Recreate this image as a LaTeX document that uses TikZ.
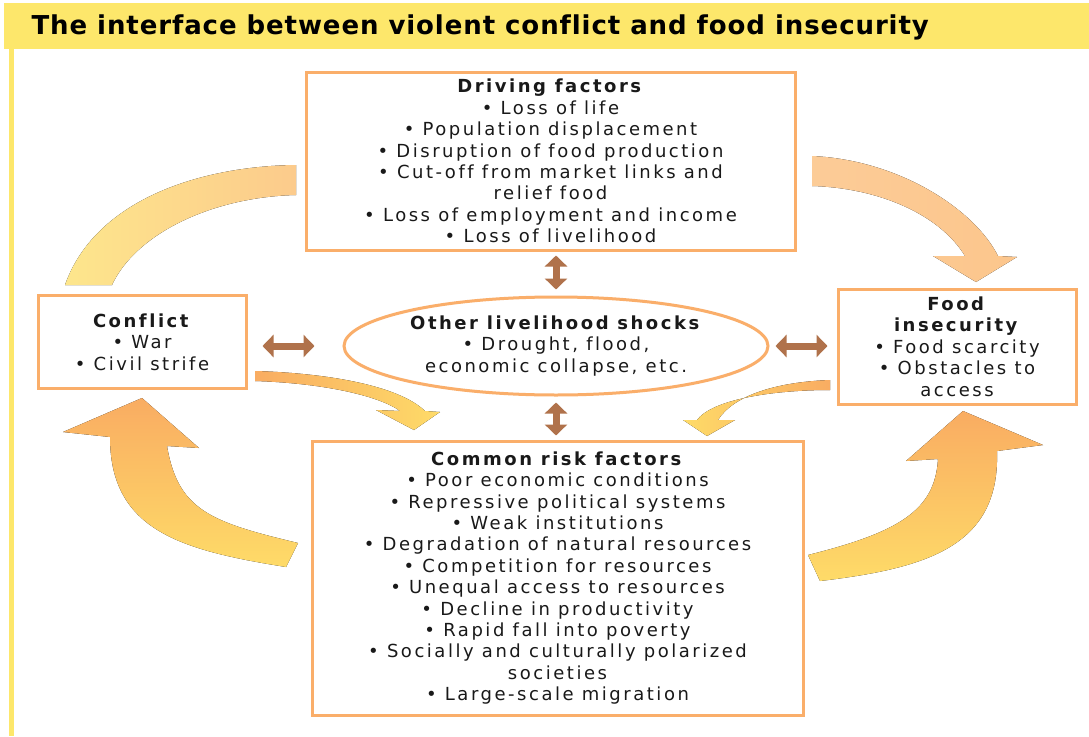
\documentclass[tikz,border=0pt]{standalone}
\usepackage{fontspec}
\setmainfont{DejaVu Sans}[LetterSpace=14, Ligatures=NoCommon]
\newfontfamily\headfont{DejaVu Sans}[LetterSpace=3.5, Ligatures=NoCommon]
\usetikzlibrary{positioning, shapes.geometric, arrows.meta}

\definecolor{bandyellow}{RGB}{253,231,107}
\definecolor{boxorange}{RGB}{250,174,106}
\definecolor{linkbrown}{RGB}{176,114,75}
\definecolor{flowlight}{RGB}{253,230,140}
\definecolor{flowpeach}{RGB}{252,198,140}
\definecolor{flowgold}{RGB}{254,219,104}
\definecolor{floworange}{RGB}{249,172,98}

\tikzset{
  factor/.style={draw=boxorange, line width=3pt, fill=white, inner sep=0pt,
    align=center, text=black!90, font=\fontsize{18}{21.4}\selectfont},
  shockoval/.style={factor, ellipse},
  link/.style={draw=linkbrown, line width=7pt,
    {Triangle[length=11pt,width=22pt]}-{Triangle[length=11pt,width=22pt]}},
}

\begin{document}
\begin{tikzpicture}[x=1pt, y=-1pt]
            \useasboundingbox[fill=white] (0,0) rectangle (1089,736);

            % heading band and side rule
            \fill[bandyellow] (4,3) rectangle (1089,49);
            \fill[bandyellow] (9,49) rectangle (14,736);
            \node[anchor=west, font=\headfont\bfseries\fontsize{26}{26}\selectfont] (title) at (28,27)
              {The interface between violent conflict and food insecurity};

            % the flows round the cycle
            \fill[left color=flowlight, right color=flowpeach!85!flowlight]
              (65,285) .. controls (95,200) and (200,166) .. (296,165)
              -- (296,195) .. controls (210,197) and (135,235) .. (112,285) -- cycle;
            \fill[left color=flowpeach!90!white, right color=flowpeach]
              (812,156) .. controls (900,160) and (975,210) .. (998,256)
              -- (1017,257) -- (976,282) -- (933,256) -- (965,256)
              .. controls (940,215) and (880,188) .. (812,186) -- cycle;
            \fill[left color=floworange, right color=flowgold]
              (255,371) .. controls (325,373) and (398,385) .. (425,411)
              -- (440,412) -- (414,430) -- (376,410) -- (400,411)
              .. controls (378,395) and (320,383) .. (255,381) -- cycle;
            \fill[left color=flowgold, right color=floworange]
              (830,380) .. controls (775,382) and (733,396) .. (718,420)
              -- (735,420) -- (707,436) -- (683,420) -- (697,420)
              .. controls (712,400) and (770,390) .. (830,390) -- cycle;
            \fill[top color=floworange, bottom color=flowgold]
              (286,567) -- (298,543) .. controls (210,522) and (178,510) .. (167,446)
              -- (199,448) -- (142,398) -- (63,432) -- (110,437)
              .. controls (110,530) and (180,550) .. (286,567) -- cycle;
            \fill[top color=floworange, bottom color=flowgold]
              (808,555) .. controls (900,532) and (935,510) .. (938,459)
              -- (906,461) -- (963,411) -- (1043,445) -- (997,451)
              .. controls (1000,545) and (930,568) .. (820,581) -- cycle;

            \node[factor, minimum width=489, minimum height=178] (driving) at (550.5,161)
              {\textbf{Driving factors}\\
               • Loss of life\\
               • Population displacement\\
               • Disruption of food production\\
               • Cut-off from market links and\\
               relief food\\
               • Loss of employment and income\\
               • Loss of livelihood};
            \node[factor, minimum width=208, minimum height=93] (conflict) at (142,342)
              {\textbf{Conflict}\\ • War\\ • Civil strife};
            \node[factor, minimum width=238, minimum height=115] (food) at (957,346.5)
              {\textbf{Food}\\ \textbf{insecurity}\\ • Food scarcity\\ • Obstacles to\\ access};
            \node[shockoval, minimum width=424, minimum height=98] (shocks) at (556,346)
              {\textbf{Other livelihood shocks}\\
               • Drought, flood,\\
               economic collapse, etc.};
            \node[factor, minimum width=491, minimum height=274] (risk) at (557.5,578)
              {\textbf{Common risk factors}\\
               • Poor economic conditions\\
               • Repressive political systems\\
               • Weak institutions\\
               • Degradation of natural resources\\
               • Competition for resources\\
               • Unequal access to resources\\
               • Decline in productivity\\
               • Rapid fall into poverty\\
               • Socially and culturally polarized\\
               societies\\
               • Large-scale migration};

            \draw [link, shorten <=4pt, shorten >=6pt] (driving.south -| shocks.north) -- (shocks.north);
            \draw [link, shorten <=6pt, shorten >=4pt] (shocks.south) -- (shocks.south |- risk.north);
            \draw [link, shorten <=15pt, shorten >=28pt] (conflict.east |- shocks.west) -- (shocks.west);
            \draw [link, shorten <=6pt, shorten >=9pt] (shocks.east) -- (shocks.east -| food.west);
        \end{tikzpicture}
\end{document}
